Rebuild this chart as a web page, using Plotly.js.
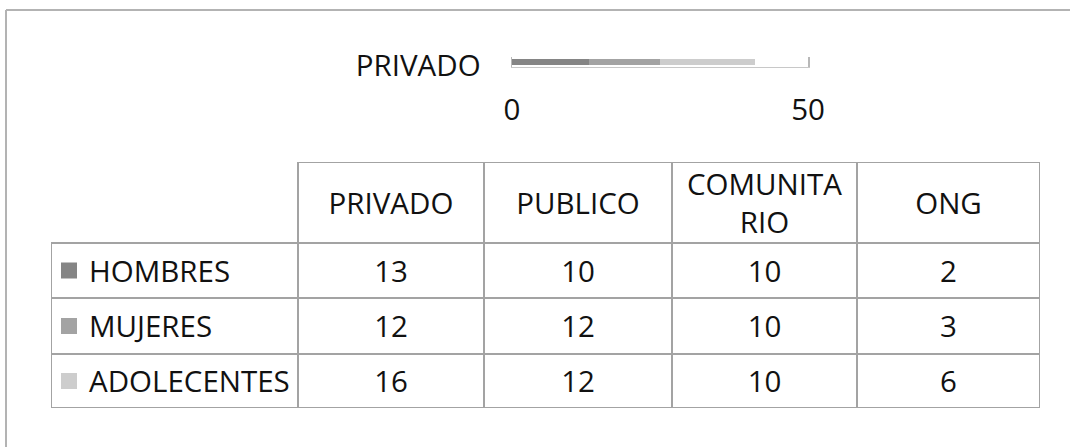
<!DOCTYPE html>
<html>
<head>
<meta charset="utf-8">
<script src="https://cdn.plot.ly/plotly-3.0.1.min.js"></script>
<style>html,body{margin:0;padding:0;background:#fff;}#chart{width:1070px;height:447px;}</style>
</head>
<body>
<div id="chart"></div>
<script>
// ---- data ----
const categories = ['PRIVADO', 'PUBLICO', 'COMUNITARIO', 'ONG'];
const headerLabels = ['PRIVADO', 'PUBLICO', 'COMUNITA<br>RIO', 'ONG'];
const seriesNames = ['HOMBRES', 'MUJERES', 'ADOLECENTES'];
const hombres = [13, 10, 10, 2];
const mujeres = [12, 12, 10, 3];
const adolecentes = [16, 12, 10, 6];
const seriesColors = ['#858585', '#a3a3a3', '#cdcdcd'];
const xTicks = [0, 50];

// ---- layout geometry of the data table (pixel units of its own axes) ----
const colEdges = [0, 247, 433, 621, 806, 989];
const rowEdges = [0, 81, 136, 192, 246];
const textDrop = 4;   // small downward nudge of the cell text

const seriesValues = [hombres, mujeres, adolecentes];
const W = 1070, H = 447;
const FONT = 'Open Sans, sans-serif';
const FS = 29.5;
const TXT = '#111111';
const lineCol = '#a3a3a3';

// stacked bar for the first category only (as in the reference)
const barTraces = seriesNames.map((name, i) => ({
  type: 'bar',
  orientation: 'h',
  name: name,
  y: [categories[0]],
  x: [seriesValues[i][0]],
  marker: {color: seriesColors[i], line: {width: 0}},
  hoverinfo: 'x+name',
  showlegend: false
}));

// ---- data table drawn on its own hidden axes ----
const colCenter = j => (colEdges[j] + colEdges[j + 1]) / 2;
const rowCenter = r => (rowEdges[r] + rowEdges[r + 1]) / 2;

const headerTrace = {
  type: 'scatter', mode: 'text', xaxis: 'x2', yaxis: 'y2',
  x: categories.map((c, j) => colCenter(j + 1)),
  y: categories.map(() => rowCenter(0) + textDrop),
  text: headerLabels,
  textposition: 'middle center',
  textfont: {family: FONT, size: FS, color: TXT},
  cliponaxis: false, hoverinfo: 'skip', showlegend: false
};

const cellX = [], cellY = [], cellT = [];
seriesValues.forEach((vals, r) => vals.forEach((v, j) => {
  cellX.push(colCenter(j + 1)); cellY.push(rowCenter(r + 1) + textDrop); cellT.push(String(v));
}));
const cellTrace = {
  type: 'scatter', mode: 'text', xaxis: 'x2', yaxis: 'y2',
  x: cellX, y: cellY, text: cellT,
  textposition: 'middle center',
  textfont: {family: FONT, size: FS, color: TXT},
  cliponaxis: false, hoverinfo: 'skip', showlegend: false
};

const labelTrace = {
  type: 'scatter', mode: 'text', xaxis: 'x2', yaxis: 'y2',
  x: seriesNames.map(() => 38),
  y: seriesNames.map((n, r) => rowCenter(r + 1) + textDrop),
  text: seriesNames,
  textposition: 'middle right',
  textfont: {family: FONT, size: FS, color: TXT},
  cliponaxis: false, hoverinfo: 'skip', showlegend: false
};

const keyTrace = {
  type: 'scatter', mode: 'markers', xaxis: 'x2', yaxis: 'y2',
  x: seriesNames.map(() => 18),
  y: seriesNames.map((n, r) => rowCenter(r + 1)),
  marker: {symbol: 'square', size: 16, color: seriesColors, line: {width: 0}},
  cliponaxis: false, hoverinfo: 'skip', showlegend: false
};

// grid lines of the table
const gridShapes = [];
const ln = (x0, x1, y0, y1) => ({type: 'line', xref: 'x2', yref: 'y2', x0, x1, y0, y1,
  line: {color: lineCol, width: 2}});
gridShapes.push(ln(colEdges[1], colEdges[colEdges.length - 1], rowEdges[0], rowEdges[0]));
for (let r = 1; r < rowEdges.length; r++)
  gridShapes.push(ln(colEdges[0], colEdges[colEdges.length - 1], rowEdges[r], rowEdges[r]));
gridShapes.push(ln(colEdges[0], colEdges[0], rowEdges[1], rowEdges[rowEdges.length - 1]));
for (let c = 1; c < colEdges.length; c++)
  gridShapes.push(ln(colEdges[c], colEdges[c], rowEdges[0], rowEdges[rowEdges.length - 1]));

const layout = {
  width: W, height: H,
  margin: {l: 0, r: 0, t: 0, b: 0},
  paper_bgcolor: '#fff', plot_bgcolor: 'rgba(0,0,0,0)',
  barmode: 'stack',
  bargap: 0.45,
  showlegend: false,
  font: {family: FONT, color: TXT},
  xaxis: {
    domain: [512 / W, 808 / W],
    range: [0, 50],
    tickvals: xTicks,
    ticktext: xTicks.map(String),
    showgrid: false,
    zeroline: false,
    showline: true, linecolor: '#c8c8c8', linewidth: 1,
    ticks: '',
    ticklabelstandoff: 17,
    tickfont: {family: FONT, size: FS, color: TXT},
    fixedrange: true
  },
  yaxis: {
    domain: [(H - 67) / H, (H - 57) / H],
    type: 'category',
    showgrid: false, zeroline: false,
    showline: true, mirror: true, linecolor: '#b8b8b8', linewidth: 1.5,
    ticks: '',
    ticklabelstandoff: 24,
    ticklabelshift: 4,
    tickfont: {family: FONT, size: FS, color: TXT},
    fixedrange: true
  },
  xaxis2: {
    domain: [51 / W, 1040 / W], range: [colEdges[0], colEdges[colEdges.length - 1]], anchor: 'y2',
    visible: false, fixedrange: true
  },
  yaxis2: {
    domain: [(H - 408) / H, (H - 162) / H], anchor: 'x2',
    range: [rowEdges[rowEdges.length - 1], rowEdges[0]],
    visible: false, fixedrange: true
  },
  shapes: [
    {type: 'line', xref: 'paper', yref: 'paper', x0: 6 / W, x1: 1, y0: (H - 10) / H, y1: (H - 10) / H,
     line: {color: '#b3b3b3', width: 2}},
    {type: 'line', xref: 'paper', yref: 'paper', x0: 6 / W, x1: 6 / W, y0: 0, y1: (H - 10) / H,
     line: {color: '#b3b3b3', width: 2}}
  ].concat(gridShapes)
};

Plotly.newPlot('chart', barTraces.concat([keyTrace, labelTrace, headerTrace, cellTrace]), layout,
  {displayModeBar: false, staticPlot: true});
</script>
</body>
</html>
